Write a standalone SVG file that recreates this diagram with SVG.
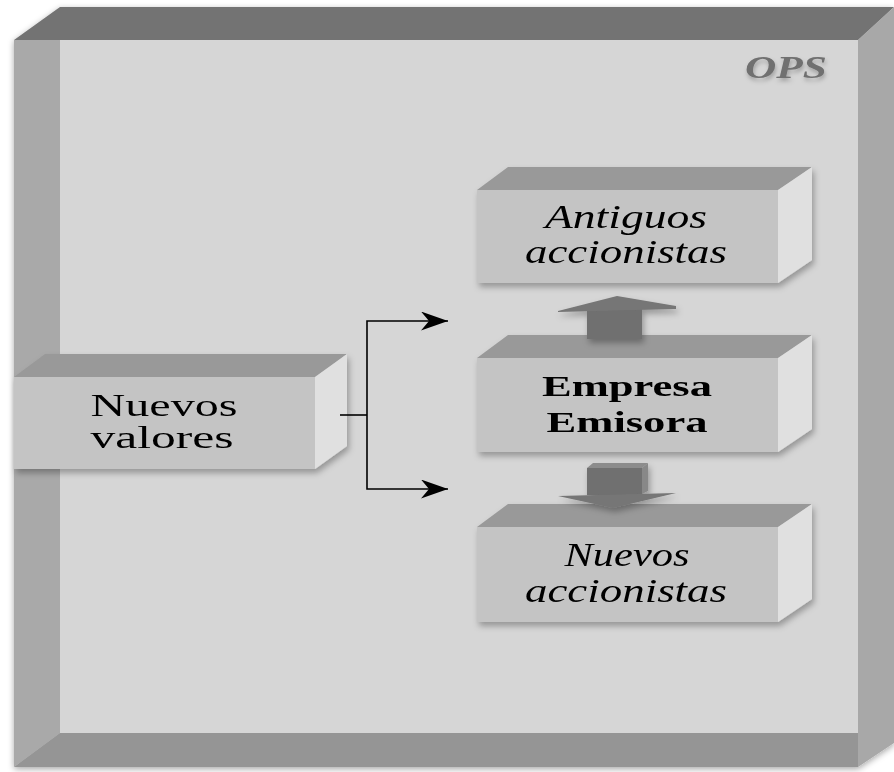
<svg xmlns="http://www.w3.org/2000/svg" width="894" height="772" viewBox="0 0 894 772">
  <defs>
    <filter id="shadow" x="-10%" y="-10%" width="130%" height="140%">
      <feDropShadow dx="2" dy="4" stdDeviation="3" flood-color="#000" flood-opacity="0.3"/>
    </filter>
    <filter id="fshadow" x="-5%" y="-5%" width="110%" height="110%">
      <feDropShadow dx="0" dy="2" stdDeviation="3" flood-color="#000" flood-opacity="0.35"/>
    </filter>
    <filter id="tshadow" x="-20%" y="-20%" width="140%" height="160%">
      <feDropShadow dx="1" dy="3" stdDeviation="2" flood-color="#000" flood-opacity="0.25"/>
    </filter>
    <marker id="arrow" viewBox="0 0 27 19" markerWidth="27" markerHeight="19" refX="27" refY="9.5" markerUnits="userSpaceOnUse" orient="auto">
      <path d="M0,0 L27,9.5 L0,19 L8,9.5 z" fill="#000"/>
    </marker>
  </defs>
  <style>
    .front { fill: #c4c4c4; }
    .top { fill: #999999; }
    .side { fill: #e0e0e0; }
    .lbl { font-family: "Liberation Serif", "Times New Roman", serif; fill: #000; }
    .it { font-style: italic; font-size: 34px; }
    .rg { font-size: 31px; }
    .bd { font-weight: bold; font-size: 30px; }
    .conn { fill: none; stroke: #000; stroke-width: 1.6; }
    .shaft { fill: #6f6f6f; }
    .head { fill: #767676; }
  </style>

  <g id="frame" filter="url(#fshadow)">
    <polygon points="14,40 60,7 894,7 858,40" fill="#737373"/>
    <polygon points="858,40 894,7 894,743 858,767" fill="#a8a8a8"/>
    <rect x="60" y="40" width="798" height="693" fill="#d6d6d6"/>
    <polygon points="14,40 60,40 60,733 14,767" fill="#a9a9a9"/>
    <polygon points="60,733 858,733 858,767 14,767" fill="#959595"/>
  </g>
  <g id="ops" filter="url(#tshadow)">
    <text x="786" y="78" text-anchor="middle" textLength="82" lengthAdjust="spacingAndGlyphs" font-family="Liberation Serif, serif" font-style="italic" font-weight="bold" font-size="31" fill="#707070">OPS</text>
  </g>

  <g id="nuevos-valores" filter="url(#shadow)">
    <rect class="front" x="14" y="377" width="301" height="92"/>
    <polygon class="top" points="14,377 45,354 347,354 315,377"/>
    <polygon class="side" points="315,377 347,354 347,446 315,469"/>
    <text class="lbl rg" x="164" y="416" text-anchor="middle" textLength="147" lengthAdjust="spacingAndGlyphs">Nuevos</text>
    <text class="lbl rg" x="162" y="448" text-anchor="middle" textLength="143" lengthAdjust="spacingAndGlyphs">valores</text>
  </g>

  <g id="antiguos-accionistas" filter="url(#shadow)">
    <rect class="front" x="477" y="190" width="301" height="93"/>
    <polygon class="top" points="477,190 508,167 812,167 778,190"/>
    <polygon class="side" points="778,190 812,167 812,260 778,283"/>
    <text class="lbl it" x="626" y="228" text-anchor="middle" textLength="162" lengthAdjust="spacingAndGlyphs">Antiguos</text>
    <text class="lbl it" x="626" y="263" text-anchor="middle" textLength="202" lengthAdjust="spacingAndGlyphs">accionistas</text>
  </g>

  <g id="empresa-emisora" filter="url(#shadow)">
    <rect class="front" x="477" y="358" width="301" height="94"/>
    <polygon class="top" points="477,358 508,335 812,335 778,358"/>
    <polygon class="side" points="778,358 812,335 812,429 778,452"/>
    <text class="lbl bd" x="627" y="396" text-anchor="middle" textLength="170" lengthAdjust="spacingAndGlyphs">Empresa</text>
    <text class="lbl bd" x="627" y="432" text-anchor="middle" textLength="161" lengthAdjust="spacingAndGlyphs">Emisora</text>
  </g>

  <g id="nuevos-accionistas" filter="url(#shadow)">
    <rect class="front" x="477" y="527" width="301" height="95"/>
    <polygon class="top" points="477,527 508,504 812,504 778,527"/>
    <polygon class="side" points="778,527 812,504 812,599 778,622"/>
    <text class="lbl it" x="627" y="566" text-anchor="middle" textLength="125" lengthAdjust="spacingAndGlyphs">Nuevos</text>
    <text class="lbl it" x="626" y="602" text-anchor="middle" textLength="202" lengthAdjust="spacingAndGlyphs">accionistas</text>
  </g>

  <g id="arrow-up" filter="url(#shadow)">
    <rect class="shaft" x="587" y="309" width="55" height="30"/>
    <polygon class="head" points="558,311 617,296 676,306 676,309 558,312"/>
  </g>

  <g id="arrow-down" filter="url(#shadow)">
    <polygon points="587,468 593,463 648,463 642,468" fill="#8c8c8c"/>
    <rect class="shaft" x="587" y="468" width="55" height="27"/>
    <polygon points="642,468 648,463 648,491 642,494" fill="#888888"/>
    <polygon class="head" points="558,496 676,493 613,508"/>
  </g>

  <g id="connectors">
    <path class="conn" d="M340,415 H367"/>
    <path class="conn" d="M367,415 V321 H448" marker-end="url(#arrow)"/>
    <path class="conn" d="M367,415 V489 H448" marker-end="url(#arrow)"/>
  </g>
</svg>
